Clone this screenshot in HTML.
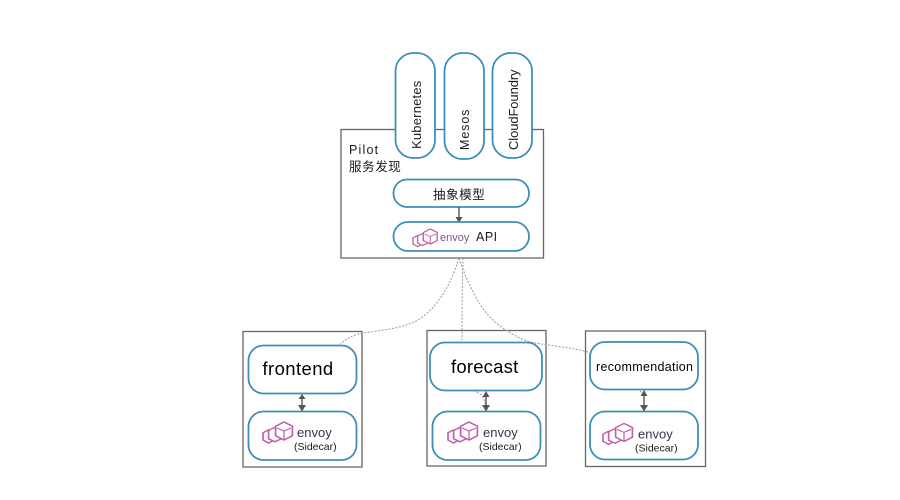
<!DOCTYPE html>
<html><head><meta charset="utf-8">
<style>
html,body{margin:0;padding:0;background:#fff}
svg{display:block}
text{font-family:"Liberation Sans","Noto Sans CJK SC",sans-serif;fill:#1c1c1c}
.o{fill:#fff;stroke:#666;stroke-width:1.3}
.n{fill:#fff;stroke:#3d8fb8;stroke-width:1.8}
.d{fill:none;stroke:#999;stroke-width:1;stroke-dasharray:2 1.5}
.a{stroke:#555;stroke-width:1.4;fill:none}
.h{fill:#555}
.e{fill:#3b3050}
.lg polygon{fill:#fff;stroke:#c060a8;stroke-width:1.2}
.lg path{fill:none;stroke:#c060a8;stroke-width:.9}
</style></head>
<body>
<svg width="900" height="500" viewBox="0 0 900 500" xmlns="http://www.w3.org/2000/svg">
<defs>
<g id="logo" class="lg">
<polygon points="0,-4 4,-6.5 8,-4 8,2 4,4.5 0,2"/>
<polygon points="4,-6 8.5,-8.5 13,-6 13,1 8.5,3.5 4,1"/>
<polygon points="9,-9.5 15,-13 21,-9.5 21,-1.5 15,2 9,-1.5"/>
<path d="M10,-8 L15,-5.5 L15,1.5 M15,-5.5 L20,-8"/>
</g>
</defs>

<rect class="o" x="341" y="129.5" width="202.5" height="128.5"/>
<rect class="o" x="243" y="331.5" width="119" height="135.5"/>
<rect class="o" x="427" y="330.5" width="119" height="135.5"/>
<rect class="o" x="585.5" y="331" width="120" height="135.5"/>

<path class="d" d="M459,258 C451,285 437,308 418,320 C405,327 392,329 363,333 C352,335 346,339 340,344"/>
<path class="d" d="M463,258 C462,290 462,320 462,342"/>
<path class="d" d="M459,258 C468,285 480,308 493,320 C505,331 518,338 530,342 C550,346 570,347 588,352"/>
<path class="d" d="M470,390 C480,392 484,396 485,404"/>
<path class="d" d="M640,391 C642,393 643,395 644,398"/>

<rect class="n" x="395.5" y="53" width="39.5" height="105" rx="18"/>
<rect class="n" x="444.5" y="53" width="39.5" height="106" rx="18"/>
<rect class="n" x="492.5" y="53" width="39.5" height="105" rx="18"/>
<text transform="translate(421,149) rotate(-90)" font-size="13" letter-spacing=".2">Kubernetes</text>
<text transform="translate(469,150) rotate(-90)" font-size="12.5" letter-spacing=".9">Mesos</text>
<text transform="translate(518,150) rotate(-90)" font-size="13" letter-spacing="-.1">CloudFoundry</text>

<text x="349" y="154" font-size="12.5" letter-spacing="1.2">Pilot</text>
<text x="349" y="171" font-size="12.5" letter-spacing=".6">服务发现</text>

<rect class="n" x="393.5" y="179.5" width="135.5" height="27.5" rx="13.5"/>
<text x="433" y="199" font-size="12.5" letter-spacing=".6">抽象模型</text>
<line class="a" x1="459" y1="207" x2="459" y2="218"/>
<polygon class="h" points="455.5,217 462.5,217 459,223"/>
<rect class="n" x="393.5" y="222" width="135.5" height="29" rx="14.5"/>
<use href="#logo" transform="translate(413,242) scale(1.15,1)"/>
<text x="440" y="241" font-size="11" class="e" style="fill:#7a5a80">envoy</text>
<text x="476" y="241" font-size="12.5" letter-spacing=".5">API</text>

<rect class="n" x="248.5" y="345.5" width="108" height="48" rx="15"/>
<text x="262.5" y="375" font-size="18.5" letter-spacing=".4" style="fill:#000">frontend</text>
<rect class="n" x="248.5" y="411.5" width="108" height="48.5" rx="15"/>
<use href="#logo" transform="translate(263,437.6) scale(1.4,1.2)"/>
<text x="297" y="437" font-size="13" class="e">envoy</text>
<text x="294" y="450" font-size="10.5">(Sidecar)</text>
<line class="a" x1="302" y1="397" x2="302" y2="408"/>
<polygon class="h" points="298.5,399 305.5,399 302,394"/>
<polygon class="h" points="298,405 306,405 302,411.5"/>

<rect class="n" x="430" y="342.5" width="112" height="48" rx="15"/>
<text x="451" y="373" font-size="18.5" letter-spacing=".2" style="fill:#000">forecast</text>
<rect class="n" x="432.5" y="411.5" width="108" height="48.5" rx="15"/>
<use href="#logo" transform="translate(448,437.6) scale(1.4,1.2)"/>
<text x="483" y="437" font-size="13" class="e">envoy</text>
<text x="479" y="450" font-size="10.5">(Sidecar)</text>
<line class="a" x1="486" y1="394" x2="486" y2="408"/>
<polygon class="h" points="482.5,397 489.5,397 486,391"/>
<polygon class="h" points="482,405 490,405 486,411.5"/>

<rect class="n" x="590" y="342" width="108" height="47.5" rx="15"/>
<text x="596" y="371" font-size="12.5" letter-spacing=".3" style="fill:#000">recommendation</text>
<rect class="n" x="590" y="411.5" width="108" height="48" rx="15"/>
<use href="#logo" transform="translate(603,439) scale(1.4,1.2)"/>
<text x="638" y="438.5" font-size="13" class="e">envoy</text>
<text x="635" y="451.5" font-size="10.5">(Sidecar)</text>
<line class="a" x1="644" y1="393" x2="644" y2="408"/>
<polygon class="h" points="640.5,396 647.5,396 644,390"/>
<polygon class="h" points="640,405 648,405 644,411.5"/>
</svg>
</body></html>
